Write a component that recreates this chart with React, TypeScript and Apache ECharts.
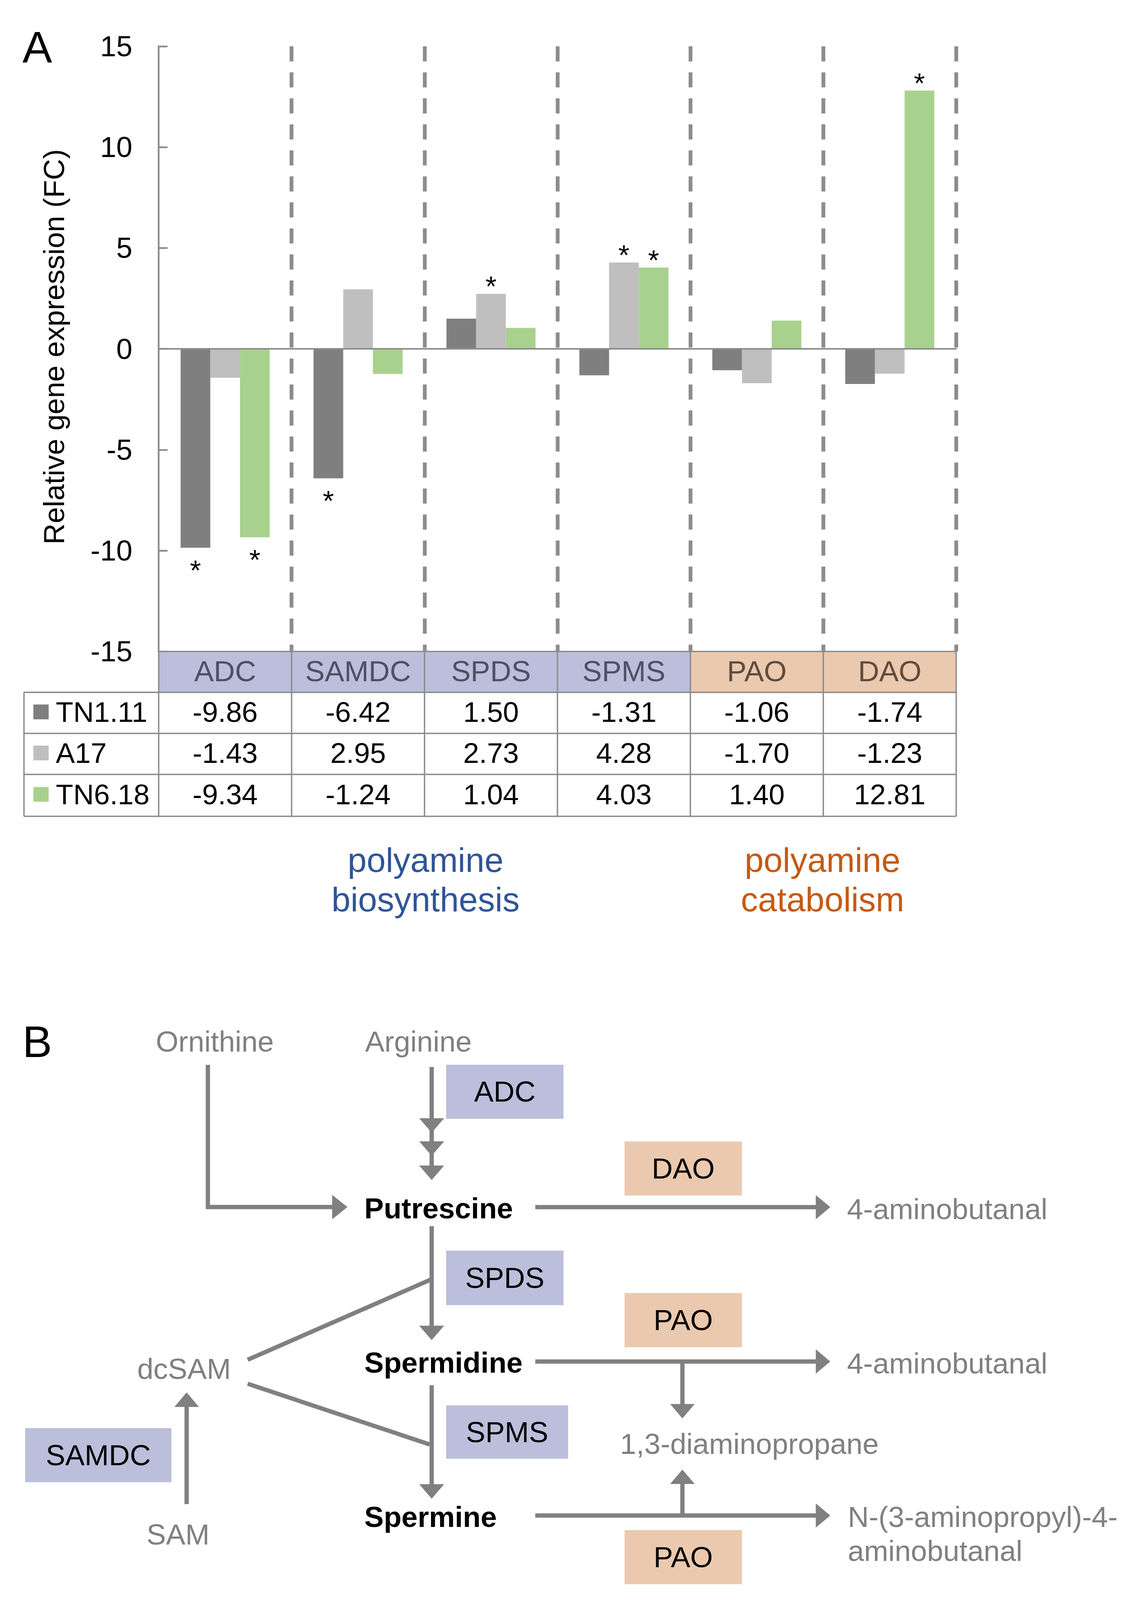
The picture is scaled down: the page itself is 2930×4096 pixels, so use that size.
import React, { useEffect, useRef } from 'react';
import * as echarts from 'echarts';

const W = 2930;
const H = 4096;
const S = W / 1122;
const p = (v: number) => v * S;
const FONT = "'Liberation Sans', Arial, Helvetica, sans-serif";

// ---------- data ----------
const genes = ['ADC', 'SAMDC', 'SPDS', 'SPMS', 'PAO', 'DAO'];
const geneGroups = ['bio', 'bio', 'bio', 'bio', 'cat', 'cat'];
const seriesNames = ['TN1.11', 'A17', 'TN6.18'];
const tn111 = [-9.86, -6.42, 1.5, -1.31, -1.06, -1.74];
const a17 = [-1.43, 2.95, 2.73, 4.28, -1.7, -1.23];
const tn618 = [-9.34, -1.24, 1.04, 4.03, 1.4, 12.81];
const sigTn111 = [true, true, false, false, false, false];
const sigA17 = [false, false, true, true, false, false];
const sigTn618 = [true, false, false, true, false, true];
const yMin = -15;
const yMax = 15;
const yStep = 5;
const yTitle = 'Relative gene expression (FC)';
const groupTitles = [
  ['polyamine', 'biosynthesis'],
  ['polyamine', 'catabolism'],
];

// ---------- styles ----------
const barColors = ['#7f7f7f', '#bfbfbf', '#a9d18e'];
const gridGray = '#8c8c8c';
const arrowGray = '#808080';
const bioFill = '#bbbfdb';
const catFill = '#ebc9ae';
const bioText = '#4e5066';
const catText = '#5f4c40';

// layout (in reference display units, scaled by p())
const gL = 155.5, gR = 937, gT = 45.4, gB = 638.6;
const colW = (gR - gL) / genes.length;
const hdrB = 678.7;
const rowLines = [hdrB, 719, 759.2, 800.2];
const tableL = 23.5;

function buildOption() {
  const allSeries = [tn111, a17, tn618];
  const allSig = [sigTn111, sigA17, sigTn618];
  const starSize = p(28);
  const series = allSeries.map((vals, si) => ({
    type: 'bar',
    name: seriesNames[si],
    xAxisIndex: 0,
    yAxisIndex: 0,
    barGap: '0%',
    barCategoryGap: '33%',
    itemStyle: { color: barColors[si] },
    label: {
      show: false,
      formatter: '*',
      fontSize: starSize,
      fontFamily: FONT,
      color: '#000',
    },
    data: vals.map((v, i) => ({
      value: v,
      label: {
        show: allSig[si][i],
        position: v >= 0 ? 'top' : 'bottom',
        distance: v >= 0 ? -p(6.5) : p(8),
      },
    })),
  }));

  const g: any[] = [];
  const line = (x1: number, y1: number, x2: number, y2: number, w: number, c: string, extra: any = {}) =>
    g.push({ type: 'line', shape: { x1: p(x1), y1: p(y1), x2: p(x2), y2: p(y2) }, style: { stroke: c, lineWidth: w, ...extra }, z: 10 });
  const rect = (x: number, y: number, w: number, h: number, fill: string) =>
    g.push({ type: 'rect', shape: { x: p(x), y: p(y), width: p(w), height: p(h) }, style: { fill }, z: 5 });
  const text = (t: string, x: number, y: number, size: number, fill: string, align = 'center', weight = 'normal', extra: any = {}) =>
    g.push({
      type: 'text',
      x: p(x),
      y: p(y),
      z: 20,
      ...extra,
      style: { text: t, fontSize: p(size), fontFamily: FONT, fontWeight: weight, fill, align, verticalAlign: 'middle' },
    });
  const poly = (pts: number[][]) =>
    g.push({ type: 'polygon', shape: { points: pts.map(([x, y]) => [p(x), p(y)]) }, style: { fill: arrowGray }, z: 10 });

  // panel labels
  text('A', 22, 46, 43.5, '#000', 'left');
  text('B', 22, 1021, 43.5, '#000', 'left');

  // y-axis title
  text(yTitle, 52.8, 340, 28.7, '#000', 'center', 'normal', { rotation: Math.PI / 2 });

  // header row
  genes.forEach((gn, i) => {
    const x0 = gL + i * colW;
    rect(x0, gB, colW, hdrB - gB, geneGroups[i] === 'bio' ? bioFill : catFill);
    text(gn, x0 + colW / 2, 658, 28.7, geneGroups[i] === 'bio' ? bioText : catText);
  });

  // table values
  allSeries.forEach((vals, si) => {
    const yc = (rowLines[si] + rowLines[si + 1]) / 2 - 1;
    rect(32.7, yc - 7.2, 15, 14.5, barColors[si]);
    text(seriesNames[si], 54.7, yc, 28, '#000', 'left');
    vals.forEach((v, i) => {
      text(v.toFixed(2), gL + (i + 0.5) * colW, yc, 28, '#000');
    });
  });

  // table grid lines
  const tw = p(1.35);
  line(gL, gB, gR, gB, tw, gridGray);
  rowLines.forEach((y) => line(tableL, y, gR, y, tw, gridGray));
  line(tableL, hdrB, tableL, rowLines[3], tw, gridGray);
  for (let i = 0; i <= genes.length; i++) {
    const x = gL + i * colW;
    line(x, gB, x, rowLines[3], tw, gridGray);
  }

  // group titles
  const grpCenters = [417, 806];
  groupTitles.forEach((lines, k) => {
    const c = k === 0 ? '#2f5597' : '#c55a11';
    text(lines[0], grpCenters[k], 843.3, 33.5, c);
    text(lines[1], grpCenters[k], 881.8, 33.5, c);
  });

  // ---------- panel B ----------
  const lw = p(4.2);
  const arrowDown = (x: number, yb: number, len = 14.2, w = 24.4) => poly([[x - w / 2, yb], [x + w / 2, yb], [x, yb + len]]);
  const arrowUp = (x: number, yb: number, len = 14.2, w = 24.4) => poly([[x - w / 2, yb], [x + w / 2, yb], [x, yb - len]]);
  const arrowRight = (y: number, xb: number, len = 14.2, w = 23.8) => poly([[xb, y - w / 2], [xb, y + w / 2], [xb + len, y]]);

  // Ornithine branch
  g.push({
    type: 'polyline',
    shape: { points: [[p(203.7), p(1046)], [p(203.7), p(1183.3)], [p(327), p(1183.3)]] },
    style: { stroke: arrowGray, lineWidth: lw, fill: null, lineJoin: 'miter', lineCap: 'square' },
    z: 10,
  });
  arrowRight(1183.3, 325.5, 15);

  // Arginine
  line(423, 1046, 423, 1145, lw, arrowGray);
  arrowDown(423, 1096.2);
  arrowDown(423, 1118.8);
  arrowDown(423, 1142.6);

  // Putrescine -> 4-aminobutanal
  line(524.5, 1183.4, 801, 1183.4, lw, arrowGray);
  arrowRight(1183.4, 799.4);
  // Putrescine -> Spermidine
  line(423, 1202, 423, 1301, lw, arrowGray);
  arrowDown(423, 1299.6);
  // dcSAM diagonals
  line(242.7, 1333, 423, 1254, lw, arrowGray);
  line(242.7, 1356.5, 421, 1416, lw, arrowGray);
  // Spermidine -> Spermine
  line(423, 1358, 423, 1456.5, lw, arrowGray);
  arrowDown(423, 1455);
  // SAM -> dcSAM
  line(182.9, 1474.5, 182.9, 1378, lw, arrowGray);
  arrowUp(182.9, 1379.2, 14.2, 24);
  // Spermidine -> 4-aminobutanal, branch to 1,3-diaminopropane
  line(524.5, 1334.7, 801, 1334.7, lw, arrowGray);
  arrowRight(1334.7, 799.4);
  line(668.7, 1334.7, 668.7, 1378, lw, arrowGray);
  arrowDown(668.7, 1376.4, 14.1, 24);
  // Spermine -> N-(3-aminopropyl)-4-aminobutanal, branch up
  line(524.5, 1485.7, 801, 1485.7, lw, arrowGray);
  arrowRight(1485.7, 799.4);
  line(668.7, 1485.7, 668.7, 1453.5, lw, arrowGray);
  arrowUp(668.7, 1454.8, 14.2, 24);

  // enzyme boxes
  const box = (t: string, x0: number, y0: number, x1: number, y1: number, fill: string) => {
    rect(x0, y0, x1 - x0, y1 - y0, fill);
    text(t, (x0 + x1) / 2, (y0 + y1) / 2, 28.5, '#000');
  };
  box('ADC', 437.2, 1043.8, 552.2, 1096.7, bioFill);
  box('SPDS', 437.2, 1226, 552.2, 1279.5, bioFill);
  box('SPMS', 437.2, 1377.7, 556.7, 1430, bioFill);
  box('SAMDC', 24.7, 1400, 168, 1453, bioFill);
  box('DAO', 612, 1119, 727, 1172, catFill);
  box('PAO', 612, 1267.6, 727, 1320.7, catFill);
  box('PAO', 612, 1500, 727, 1553, catFill);

  // metabolites
  const gray = '#808080';
  text('Ornithine', 210.5, 1021, 28.5, gray);
  text('Arginine', 410, 1021, 28.5, gray);
  text('Putrescine', 357, 1184.5, 28.5, '#000', 'left', 'bold');
  text('Spermidine', 357, 1335.7, 28.5, '#000', 'left', 'bold');
  text('Spermine', 357, 1487, 28.5, '#000', 'left', 'bold');
  text('4-aminobutanal', 830, 1185.2, 28.5, gray, 'left');
  text('4-aminobutanal', 830, 1336.6, 28.5, gray, 'left');
  text('1,3-diaminopropane', 607.6, 1415.5, 28.5, gray, 'left');
  text('N-(3-aminopropyl)-4-', 830.8, 1487, 28.5, gray, 'left');
  text('aminobutanal', 830.8, 1520.4, 28.5, gray, 'left');
  text('dcSAM', 180.4, 1342, 28.5, gray);
  text('SAM', 174.5, 1504.5, 28.5, gray);

  return {
    animation: false,
    backgroundColor: '#ffffff',
    grid: {
      left: p(gL),
      top: p(gT),
      width: p(gR - gL),
      height: p(gB - gT),
      containLabel: false,
    },
    xAxis: [
      {
        type: 'category',
        data: genes,
        z: 6,
        axisLine: { show: true, onZero: true, lineStyle: { color: gridGray, width: p(1.55) } },
        axisTick: { show: false },
        axisLabel: { show: false },
        splitLine: { show: false },
      },
      {
        type: 'value',
        min: 0,
        max: genes.length,
        interval: 1,
        position: 'top',
        axisLine: { show: false },
        axisTick: { show: false },
        axisLabel: { show: false },
        splitLine: {
          show: true,
          showMinLine: false,
          showMaxLine: true,
          lineStyle: { color: gridGray, width: p(3.7), type: [p(14.8), p(10.7)] },
        },
      },
    ],
    yAxis: {
      type: 'value',
      min: yMin,
      max: yMax,
      interval: yStep,
      axisLine: { show: true, onZero: false, lineStyle: { color: gridGray, width: p(1.7) } },
      axisTick: { show: true, inside: true, length: p(8.7), lineStyle: { color: gridGray, width: p(1.7) } },
      axisLabel: { color: '#000', fontSize: p(28.4), fontFamily: FONT, margin: p(25.8) },
      splitLine: { show: false },
    },
    series,
    graphic: { elements: g },
  };
}

export default function App() {
  const ref = useRef<HTMLDivElement>(null);
  useEffect(() => {
    document.body.style.margin = '0';
    const chart = echarts.init(ref.current!, null, { renderer: 'svg', width: W, height: H });
    chart.setOption(buildOption() as any);
    return () => chart.dispose();
  }, []);
  return (
    <div
      ref={ref}
      style={{ position: 'absolute', left: 0, top: 0, width: W, height: H, background: '#fff' }}
    />
  );
}
